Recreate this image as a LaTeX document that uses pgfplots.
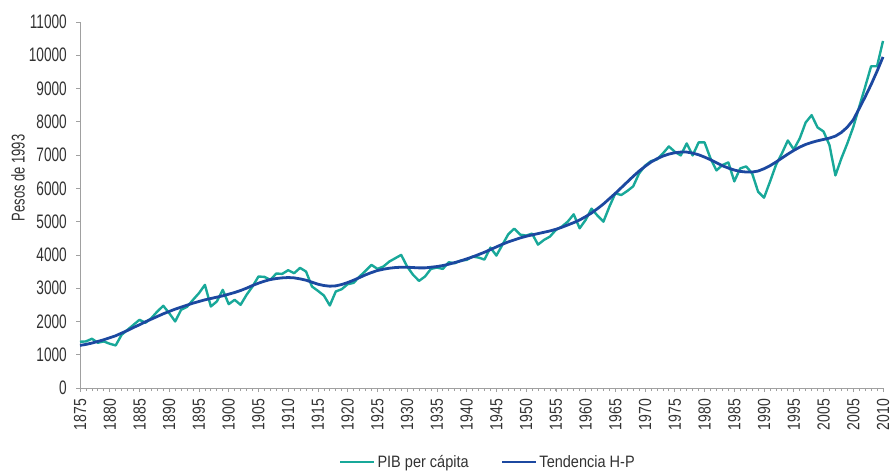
\documentclass[border=0pt]{standalone}
\usepackage{pgfplots}
\usepackage{pgfplotstable}
\pgfplotsset{compat=1.18}
\usepackage{fontspec}
\setmainfont{Liberation Sans}
\newfontfamily\yfont{Liberation Sans}[FakeStretch=0.7]
\newfontfamily\xfont{Liberation Sans}[FakeStretch=0.8]
\newfontfamily\legfont{Liberation Sans}[FakeStretch=0.88]
\definecolor{pibcol}{RGB}{24,168,153}
\definecolor{hpcol}{RGB}{28,72,160}
\definecolor{txtcol}{RGB}{50,50,50}
\definecolor{axcol}{RGB}{160,160,160}

\pgfplotstableread{
year pib hp
1875 1390 1280
1876 1400 1310
1877 1480 1350
1878 1360 1400
1879 1400 1450
1880 1330 1510
1881 1280 1570
1882 1600 1650
1883 1750 1730
1884 1900 1820
1885 2050 1900
1886 1960 1990
1887 2100 2070
1888 2300 2150
1889 2470 2230
1890 2250 2300
1891 2000 2370
1892 2350 2430
1893 2440 2490
1894 2650 2550
1895 2850 2600
1896 3100 2650
1897 2450 2690
1898 2600 2730
1899 2950 2770
1900 2520 2820
1901 2650 2870
1902 2500 2930
1903 2800 3000
1904 3050 3080
1905 3350 3150
1906 3340 3210
1907 3250 3260
1908 3440 3290
1909 3430 3310
1910 3540 3320
1911 3450 3310
1912 3610 3280
1913 3500 3240
1914 3050 3180
1915 2920 3120
1916 2780 3080
1917 2480 3060
1918 2900 3070
1919 2970 3110
1920 3120 3170
1921 3160 3240
1922 3350 3320
1923 3520 3400
1924 3700 3470
1925 3580 3530
1926 3650 3570
1927 3800 3600
1928 3900 3620
1929 4000 3630
1930 3650 3630
1931 3400 3620
1932 3220 3610
1933 3350 3610
1934 3580 3630
1935 3620 3650
1936 3580 3680
1937 3780 3720
1938 3750 3770
1939 3830 3820
1940 3850 3880
1941 3950 3940
1942 3920 4010
1943 3860 4080
1944 4220 4160
1945 3980 4240
1946 4300 4320
1947 4620 4390
1948 4790 4450
1949 4610 4510
1950 4580 4560
1951 4640 4600
1952 4310 4640
1953 4450 4680
1954 4550 4720
1955 4750 4770
1956 4850 4830
1957 5000 4900
1958 5220 4970
1959 4800 5050
1960 5050 5150
1961 5390 5260
1962 5180 5390
1963 5000 5530
1964 5450 5690
1965 5850 5850
1966 5800 6020
1967 5920 6190
1968 6060 6360
1969 6450 6520
1970 6680 6660
1971 6820 6790
1972 6870 6890
1973 7050 6970
1974 7260 7030
1975 7100 7070
1976 6990 7090
1977 7350 7090
1978 6990 7060
1979 7380 7010
1980 7380 6940
1981 6900 6860
1982 6540 6770
1983 6700 6680
1984 6780 6610
1985 6210 6550
1986 6600 6510
1987 6660 6490
1988 6450 6490
1989 5900 6520
1990 5720 6590
1991 6200 6680
1992 6700 6790
1993 7050 6910
1994 7440 7030
1995 7170 7140
1996 7500 7240
1997 7980 7320
1998 8200 7380
1999 7830 7430
2000 7710 7470
2001 7300 7510
2002 6390 7570
2003 6900 7680
2004 7350 7840
2005 7840 8060
2006 8450 8400
2007 9050 8750
2008 9670 9120
2009 9670 9520
2010 10430 9950
}\datatable

\begin{document}
\begin{tikzpicture}
\path[use as bounding box] (-80bp,-86bp) rectangle (811bp,388bp);
\begin{axis}[
  scale only axis,
  width=803bp, height=366bp,
  xmin=1875, xmax=2010,
  ymin=0, ymax=11000,
  axis x line*=bottom, axis y line*=left,
  axis line style={axcol, line width=0.8bp, -},
  tick style={axcol, line width=0.7bp},
  tick align=outside,
  major tick length=4bp, minor tick length=3bp,
  xtick={1875,1880,...,2010},
  xticklabels={1875,1880,1885,1890,1895,1900,1905,1910,1915,1920,1925,1930,1935,1940,1945,1950,1955,1960,1965,1970,1975,1980,1985,1990,1995,2005,2005,2010},
  minor xtick={1875,...,2010},
  ytick={0,1000,...,11000},
  scaled ticks=false,
  /pgf/number format/1000 sep={},
  /pgf/number format/assume math mode=true,
  xticklabel style={rotate=90, anchor=east, inner sep=0pt, text=txtcol, font=\xfont\fontsize{17.5bp}{19bp}\selectfont},
  xticklabel shift=7bp,
  yticklabel style={anchor=east, inner sep=0pt, text=txtcol, font=\yfont\fontsize{19.5bp}{21bp}\selectfont},
  yticklabel shift=9bp,
  ylabel={Pesos de 1993},
  ylabel style={at={(axis description cs:-0.0772,0.574)}, anchor=center, inner sep=0pt, text=txtcol, font=\yfont\fontsize{18.5bp}{20bp}\selectfont},
  legend columns=2,
  legend style={at={(0.508,-0.202)}, anchor=center, draw=none, fill=none,
    font=\legfont\fontsize{16.5bp}{18bp}\selectfont, text=txtcol,
    /tikz/every even column/.append style={column sep=30bp}},
  legend image code/.code={\draw[#1] (0bp,0bp) -- (34bp,0bp);},
  clip=false,
]
\addplot[pibcol, line width=2.4bp, line join=round] table[x=year, y=pib] {\datatable};
\addlegendentry{PIB per cápita}
\addplot[hpcol, line width=2.8bp, line join=round] table[x=year, y=hp] {\datatable};
\addlegendentry{Tendencia H-P}
\end{axis}
\end{tikzpicture}
\end{document}
